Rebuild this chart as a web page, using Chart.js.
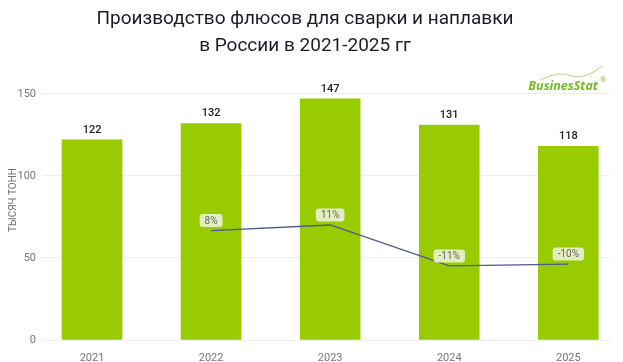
<!DOCTYPE html>
<html>
<head>
<meta charset="utf-8">
<script src="https://cdn.jsdelivr.net/npm/chart.js@4"></script>
<style>
  html, body { margin: 0; padding: 0; background: #fff; }
  #wrap { width: 623px; height: 362px; position: relative; }
</style>
</head>
<body>
<div id="wrap"><canvas id="chart"></canvas></div>
<script>
const years = ['2021', '2022', '2023', '2024', '2025'];
const volumes = [122, 132, 147, 131, 118];
const growthYears = [1, 2, 3, 4];
const growth = [8, 11, -11, -10];
const yTicks = [0, 50, 100, 150];

const barColor = '#99cc00';
const lineColor = '#4b5a8c';

// value labels over bars, boxed percents over the line, axis title and logo
const labelPlugin = {
    id: 'labels',
    afterDatasetsDraw(chart) {
        const ctx = chart.ctx;
        ctx.save();
        ctx.textAlign = 'center';
        ctx.textBaseline = 'middle';

        chart.getDatasetMeta(0).data.forEach((bar, i) => {
            ctx.font = '500 11px Roboto';
            ctx.fillStyle = '#222';
            ctx.fillText(String(volumes[i]), bar.x, bar.y - 10);
        });

        chart.getDatasetMeta(1).data.forEach((pt, i) => {
            const text = growth[i] + '%';
            ctx.font = '10px Roboto';
            const w = ctx.measureText(text).width + 10;
            const h = 13;
            const cx = pt.x;
            const cy = pt.y - 10;
            ctx.fillStyle = '#e3eebf';
            ctx.beginPath();
            ctx.roundRect(cx - w / 2, cy - h / 2, w, h, 3);
            ctx.fill();
            ctx.fillStyle = '#666';
            ctx.fillText(text, cx, cy + 0.5);
        });

        // y axis title
        ctx.save();
        ctx.translate(13, 200);
        ctx.rotate(-Math.PI / 2);
        ctx.font = '10px Roboto';
        ctx.fillStyle = '#777';
        ctx.fillText('ТЫСЯЧ ТОНН', 0, 0);
        ctx.restore();

        // logo
        ctx.textAlign = 'right';
        ctx.textBaseline = 'alphabetic';
        ctx.font = 'italic bold 12.5px "Open Sans"';
        ctx.fillStyle = '#76b82a';
        ctx.fillText('BusinesStat', 598, 90);
        ctx.font = '7px "Open Sans"';
        ctx.fillText('®', 606, 82);
        ctx.strokeStyle = '#b5d67a';
        ctx.lineWidth = 1;
        ctx.beginPath();
        ctx.moveTo(540, 80);
        ctx.quadraticCurveTo(560, 70, 572, 76);
        ctx.quadraticCurveTo(585, 80, 602, 66);
        ctx.stroke();
        ctx.restore();
    }
};

new Chart(document.getElementById('chart'), {
    type: 'bar',
    data: {
        datasets: [
            {
                type: 'bar',
                data: volumes.map((v, i) => ({ x: i, y: v })),
                backgroundColor: barColor,
                barThickness: 60,
                yAxisID: 'y',
                order: 1
            },
            {
                type: 'line',
                data: growth.map((v, i) => ({ x: growthYears[i], y: v })),
                borderColor: lineColor,
                borderWidth: 1.3,
                pointRadius: 0,
                yAxisID: 'y1',
                order: 0
            }
        ]
    },
    options: {
        responsive: true,
        maintainAspectRatio: false,
        animation: false,
        layout: { padding: { left: 0, right: 13, bottom: 0, top: 0 } },
        plugins: {
            legend: { display: false },
            tooltip: { enabled: false },
            title: {
                display: true,
                text: ['Производство флюсов для сварки и наплавки', 'в России в 2021-2025 гг'],
                color: '#1c1c28',
                font: { family: 'Roboto', size: 19, weight: 'normal', lineHeight: 1.42 },
                padding: { top: 6, bottom: 34 }
            }
        },
        scales: {
            x: {
                type: 'linear',
                min: -0.42,
                max: 4.35,
                offset: false,
                grid: { display: false },
                border: { display: false },
                afterFit(scale) { scale.height = 22; },
                afterBuildTicks(scale) {
                    scale.ticks = years.map((y, i) => ({ value: i }));
                },
                ticks: {
                    color: '#777',
                    font: { family: 'Roboto', size: 11 },
                    padding: 4,
                    callback: (v) => years[v]
                }
            },
            y: {
                min: 0,
                max: 150,
                afterFit(scale) { scale.width = 42; },
                afterBuildTicks(scale) {
                    scale.ticks = yTicks.map(v => ({ value: v }));
                },
                grid: { color: '#eeeeee', drawTicks: false },
                border: { display: false },
                ticks: {
                    color: '#777',
                    font: { family: 'Roboto', size: 11 },
                    padding: 6
                }
            },
            y1: {
                display: false,
                min: -50.8,
                max: 81.4
            }
        }
    },
    plugins: [labelPlugin]
});
</script>
</body>
</html>
